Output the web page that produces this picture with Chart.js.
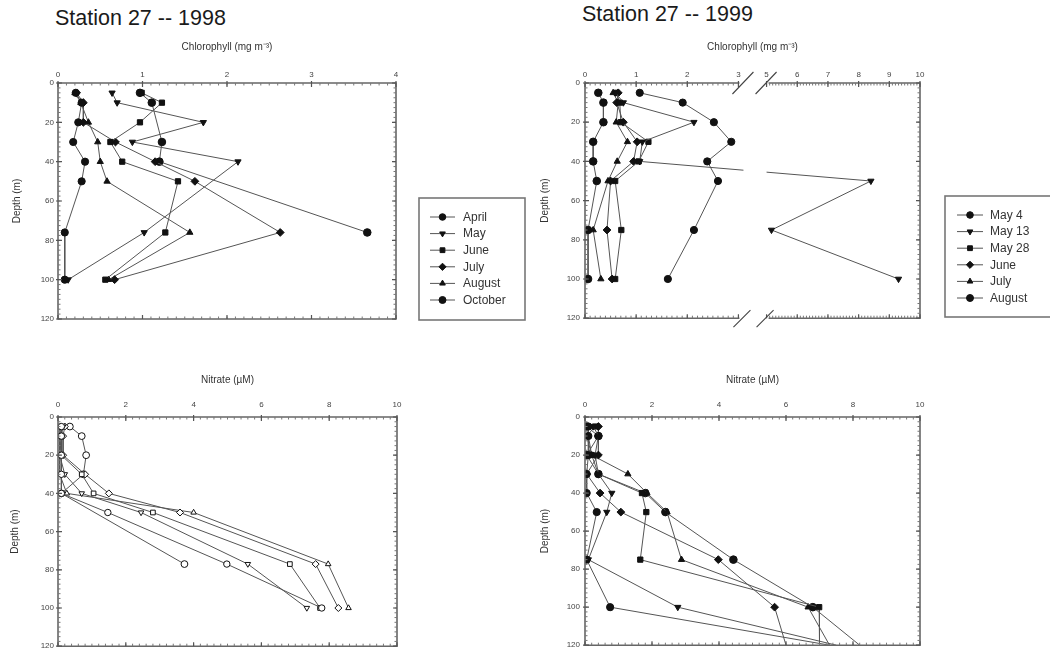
<!DOCTYPE html>
<html><head><meta charset="utf-8">
<script src="https://cdn.jsdelivr.net/npm/chart.js@4.4.1/dist/chart.umd.min.js"></script>
<style>
body{margin:0;background:#fff;width:1050px;height:658px;overflow:hidden;position:relative;font-family:"Liberation Sans",Arial,sans-serif}
.t{position:absolute;font-size:21.5px;line-height:24px;color:#1a1a1a;white-space:nowrap}
canvas{position:absolute}
</style></head><body>
<div class="t" style="left:55px;top:6px">Station 27 -- 1998</div>
<div class="t" style="left:582px;top:2px">Station 27 -- 1999</div>
<canvas id="c1" width="530" height="290" style="left:0;top:38px;width:530px;height:290px"></canvas>
<canvas id="c2" width="525" height="290" style="left:525px;top:38px;width:525px;height:290px"></canvas>
<canvas id="c3" width="420" height="285" style="left:0;top:370px;width:420px;height:285px"></canvas>
<canvas id="c4" width="525" height="285" style="left:525px;top:370px;width:525px;height:285px"></canvas>
<script>
// ---------- DATA ----------
const chl98Labels = ['April','May','June','July','August','October'];
const chl98Depths = [5,10,20,30,40,50,76,100];
const chl98April   = [0.21,0.28,0.24,0.18,0.32,0.28,0.08,0.08];
const chl98May     = [0.64,0.70,1.72,0.88,2.13,null,1.02,0.12];
const chl98June    = [0.99,1.23,0.97,0.62,0.76,1.42,1.27,0.56];
const chl98July    = [0.22,0.30,0.30,0.68,1.15,1.62,2.63,0.67];
const chl98August  = [0.20,0.27,0.36,0.47,0.50,0.58,1.56,0.60];
const chl98October = [0.97,1.11,null,1.23,1.20,null,3.66,null];
const chl98Ticks = [0,1,2,3,4];

const chl99Labels = ['May 4','May 13','May 28','June','July','August'];
const chl99Depths = [5,10,20,30,40,50,75,100];
const chl99May4   = [1.07,1.91,2.52,2.86,2.39,2.60,2.13,1.62];
const chl99May13  = [0.60,0.75,2.13,1.12,1.07,8.40,5.16,9.30];
const chl99May28  = [0.62,0.68,0.70,1.24,1.05,0.59,0.71,0.59];
const chl99June   = [0.65,0.62,0.75,1.02,0.95,0.50,0.43,0.53];
const chl99July   = [0.55,0.65,0.61,0.83,0.63,0.45,0.16,0.31];
const chl99August = [0.26,0.36,0.36,0.16,0.16,0.23,0.06,0.06];
const chl99Ticks = [0,1,2,3,5,6,7,8,9,10];

const no3_98Depths = [5,10,20,30,40,50,77,100];
const no3_98April   = [0.10,0.10,0.10,0.10,0.10,1.47,4.98,7.78];
const no3_98May     = [0.15,0.10,0.05,0.20,0.70,2.45,5.60,7.34];
const no3_98June    = [0.05,0.05,0.10,0.70,1.05,2.80,6.84,7.73];
const no3_98July    = [0.20,0.15,0.15,0.80,1.50,3.60,7.60,8.27];
const no3_98August  = [0.10,0.05,0.05,0.05,0.26,4.00,7.97,8.57];
const no3_98October = [0.35,0.70,0.83,0.75,0.10,null,3.73,null];

const no3_99Depths = [5,10,20,30,40,50,75,100,120];
const no3_99May4   = [0.10,0.10,0.10,0.05,0.05,0.35,0.05,0.75,7.30];
const no3_99May13  = [0.25,0.40,0.30,0.40,0.80,0.65,0.10,2.77,7.50];
const no3_99May28  = [0.30,0.05,0.20,0.40,1.70,1.83,1.65,6.99,7.00];
const no3_99June   = [0.40,0.40,0.40,0.05,0.45,1.07,3.98,5.66,6.00];
const no3_99July   = [0.10,0.10,0.20,1.28,1.85,2.45,2.88,6.66,7.30];
const no3_99August = [0.05,0.40,0.05,0.40,1.80,2.40,4.43,6.80,8.20];
const no3Ticks = [0,2,4,6,8,10];
const depthTicks = [0,20,40,60,80,100,120];

// ---------- broken axis (3 -> 5) ----------
const BRK_LO = 3, BRK_HI = 5, BRK_GAP = 0.55, BRK_K = 0.6;
function brk(v){ return v <= BRK_LO ? v : BRK_LO + BRK_GAP + (v - BRK_HI) * BRK_K; }

// ---------- styles ----------
const STY = [
  {s:'circle', r:0, rad:3.6},
  {s:'triangle', r:180, rad:3.6},
  {s:'rect', r:0, rad:3.7},
  {s:'rectRot', r:0, rad:3.9},
  {s:'triangle', r:0, rad:3.6},
  {s:'circle', r:0, rad:3.8}
];
const FONT = '"Liberation Sans", Arial, sans-serif';

function mkSets(labels, list, depths, hollow, tf){
  return list.map((vals,i)=>({
    label: labels[i],
    data: depths.map((d,j)=>({x: vals[j]===null?null:(tf?tf(vals[j]):vals[j]), y:d})).filter(p=>p.x!==null),
    showLine: true,
    borderColor: '#555',
    borderWidth: 1,
    pointStyle: STY[i].s,
    pointRotation: STY[i].r,
    pointRadius: (c)=> (c.raw && c.raw.y >= 120) ? 0 : (hollow ? STY[i].rad - 0.4 : STY[i].rad),
    pointBackgroundColor: hollow ? '#fff' : '#111',
    pointBorderColor: '#111',
    pointBorderWidth: 1,
    pointHoverRadius: 0
  }));
}

function makeFrame(cfg){
  return {
    id: 'frame',
    afterDatasetsDraw(chart){
      const {ctx, chartArea: a, scales:{x, y}} = chart;
      ctx.save();
      let g0 = null, g1 = null;
      if (cfg.broken){
        g0 = x.getPixelForValue(brk(BRK_LO));
        g1 = x.getPixelForValue(brk(BRK_HI));
        ctx.fillStyle = '#fff';
        ctx.fillRect(g0+5, a.top+1, (g1-g0)-5, a.bottom-a.top-2);
      }
      ctx.strokeStyle = '#666';
      ctx.lineWidth = 1.6;
      ctx.beginPath();
      if (cfg.broken){
        const c0 = g0+4, c1 = g1-1;
        ctx.moveTo(a.left, a.top); ctx.lineTo(c0-3, a.top);
        ctx.moveTo(c1+3, a.top); ctx.lineTo(a.right, a.top);
        ctx.lineTo(a.right, a.bottom); ctx.lineTo(c1+3, a.bottom);
        ctx.moveTo(c0-3, a.bottom); ctx.lineTo(a.left, a.bottom); ctx.lineTo(a.left, a.top);
      } else {
        ctx.rect(a.left, a.top, a.right-a.left, a.bottom-a.top);
      }
      ctx.stroke();
      // minor ticks
      ctx.lineWidth = 1;
      ctx.strokeStyle = '#777';
      ctx.beginPath();
      for (const v of cfg.xMinor){
        const px = x.getPixelForValue(cfg.broken ? brk(v) : v);
        ctx.moveTo(px, a.top); ctx.lineTo(px, a.top+2.5);
        ctx.moveTo(px, a.bottom); ctx.lineTo(px, a.bottom-2.5);
      }
      for (let v = 0; v <= 120; v += cfg.yMinor){
        const py = y.getPixelForValue(v);
        ctx.moveTo(a.left, py); ctx.lineTo(a.left+2.5, py);
        ctx.moveTo(a.right, py); ctx.lineTo(a.right-2.5, py);
      }
      ctx.stroke();
      // major ticks
      ctx.lineWidth = 1.2;
      ctx.strokeStyle = '#555';
      ctx.beginPath();
      for (const t of x.ticks){
        const px = x.getPixelForValue(t.value);
        ctx.moveTo(px, a.top-2); ctx.lineTo(px, a.top+4);
        ctx.moveTo(px, a.bottom); ctx.lineTo(px, a.bottom-4);
      }
      for (const t of y.ticks){
        const py = y.getPixelForValue(t.value);
        ctx.moveTo(a.left-2, py); ctx.lineTo(a.left+4, py);
        ctx.moveTo(a.right, py); ctx.lineTo(a.right-4, py);
      }
      ctx.stroke();
      if (cfg.broken){
        ctx.strokeStyle = '#444';
        ctx.lineWidth = 1.1;
        ctx.beginPath();
        for (const cx of [g0+4, g1-1]){
          ctx.moveTo(cx-10, a.top+11); ctx.lineTo(cx+11, a.top-11);
          ctx.moveTo(cx-9, a.bottom+9); ctx.lineTo(cx+8, a.bottom-8);
        }
        ctx.stroke();
      }
      ctx.restore();
    },
    afterDraw(chart){
      const L = cfg.legend;
      if (!L) return;
      const ctx = chart.ctx;
      ctx.save();
      ctx.strokeStyle = '#777';
      ctx.lineWidth = 1.6;
      ctx.strokeRect(L.x, L.y, L.w, L.h);
      ctx.font = '12px ' + FONT;
      ctx.textBaseline = 'middle';
      chart.data.datasets.forEach((ds, i) => {
        const yy = L.row0 + i * L.step;
        ctx.strokeStyle = '#555';
        ctx.lineWidth = 1;
        ctx.beginPath();
        ctx.moveTo(L.lx0, yy); ctx.lineTo(L.lx1, yy);
        ctx.stroke();
        ctx.fillStyle = '#111';
        ctx.strokeStyle = '#111';
        const mx = (L.lx0 + L.lx1) / 2;
        if (Chart.helpers && Chart.helpers.drawPoint){
          Chart.helpers.drawPoint(ctx, {pointStyle: ds.pointStyle, rotation: ds.pointRotation, radius: STY[i].rad - 0.3, borderWidth: 1}, mx, yy);
        } else {
          ctx.beginPath(); ctx.arc(mx, yy, 3, 0, Math.PI*2); ctx.fill();
        }
        ctx.fillStyle = '#333';
        ctx.fillText(ds.label, L.tx, yy + 0.5);
      });
      ctx.restore();
    }
  };
}

function makeChart(id, o){
  const xTickVals = o.xTicks;
  return new Chart(document.getElementById(id), {
    type: 'scatter',
    data: { datasets: o.sets },
    options: {
      responsive: false,
      animation: false,
      events: [],
      layout: { padding: o.pad },
      plugins: { legend: {display:false}, tooltip: {enabled:false} },
      scales: {
        x: {
          type: 'linear', position: 'top',
          min: 0, max: o.xMax,
          afterFit: (s) => { s.height = o.xH; },
          afterBuildTicks: (s) => { s.ticks = xTickVals.map(v => ({value: o.broken ? brk(v) : v})); },
          grid: { display: false, drawTicks: false },
          border: { display: false },
          ticks: {
            autoSkip: false, maxRotation: 0, padding: o.xTickPad,
            color: '#444', font: {family: FONT, size: 8},
            callback: (v, i) => String(xTickVals[i])
          },
          title: {
            display: true, text: o.xTitle, color: '#333',
            font: {family: FONT, size: 10}, padding: {top: o.xTitlePad, bottom: 0}
          }
        },
        y: {
          type: 'linear', position: 'left', reverse: true,
          min: 0, max: 120,
          afterFit: (s) => { s.width = o.yW; },
          afterBuildTicks: (s) => { s.ticks = depthTicks.map(v => ({value: v})); },
          grid: { display: false, drawTicks: false },
          border: { display: false },
          ticks: {
            autoSkip: false, padding: o.yTickPad,
            color: '#444', font: {family: FONT, size: 8},
            callback: (v) => String(v)
          },
          title: {
            display: true, text: 'Depth (m)', color: '#333',
            font: {family: FONT, size: 10}, padding: {top: o.yTitlePad, bottom: 0}
          }
        }
      }
    },
    plugins: [makeFrame({broken: o.broken, xMinor: o.xMinor, yMinor: o.yMinor, legend: o.legend})]
  });
}

function range(a, b, s){ const r = []; for (let v = a; v <= b + 1e-9; v += s) r.push(+v.toFixed(4)); return r; }

makeChart('c1', {
  sets: mkSets(chl98Labels, [chl98April, chl98May, chl98June, chl98July, chl98August, chl98October], chl98Depths, false),
  xTicks: chl98Ticks, xMax: 4, broken: false,
  pad: {left:0, top:0, right:134, bottom:9},
  xH: 45, yW: 58, xTickPad: 3, yTickPad: 4, xTitlePad: 3, yTitlePad: 11,
  xTitle: 'Chlorophyll (mg m\u207B\u00B3)',
  xMinor: range(0, 4, 0.1), yMinor: 2.5,
  legend: {x:419, y:160, w:106, h:122, row0:179, step:16.6, lx0:430, lx1:455, tx:463}
});

makeChart('c2', {
  sets: mkSets(chl99Labels, [chl99May4, chl99May13, chl99May28, chl99June, chl99July, chl99August], chl99Depths, false, brk),
  xTicks: chl99Ticks, xMax: brk(10), broken: true,
  pad: {left:0, top:0, right:130, bottom:9},
  xH: 45, yW: 60, xTickPad: 3, yTickPad: 5, xTitlePad: 3, yTitlePad: 14,
  xTitle: 'Chlorophyll (mg m\u207B\u00B3)',
  xMinor: range(0, 3, 0.1).concat(range(5, 10, 0.1)), yMinor: 2.5,
  legend: {x:420, y:158, w:200, h:121, row0:177, step:16.6, lx0:432, lx1:458, tx:465}
});

makeChart('c3', {
  sets: mkSets(chl98Labels, [no3_98April, no3_98May, no3_98June, no3_98July, no3_98August, no3_98October], no3_98Depths, true),
  xTicks: no3Ticks, xMax: 10, broken: false,
  pad: {left:0, top:0, right:23, bottom:7},
  xH: 47, yW: 58, xTickPad: 7, yTickPad: 4, xTitlePad: 4, yTitlePad: 9,
  xTitle: 'Nitrate (\u00B5M)',
  xMinor: range(0, 10, 0.2), yMinor: 2.5,
  legend: null
});

makeChart('c4', {
  sets: mkSets(chl99Labels, [no3_99May4, no3_99May13, no3_99May28, no3_99June, no3_99July, no3_99August], no3_99Depths, false),
  xTicks: no3Ticks, xMax: 10, broken: false,
  pad: {left:0, top:0, right:130, bottom:7},
  xH: 47, yW: 60, xTickPad: 7, yTickPad: 5, xTitlePad: 4, yTitlePad: 14,
  xTitle: 'Nitrate (\u00B5M)',
  xMinor: range(0, 10, 0.2), yMinor: 2.5,
  legend: null
});
</script>
</body></html>
